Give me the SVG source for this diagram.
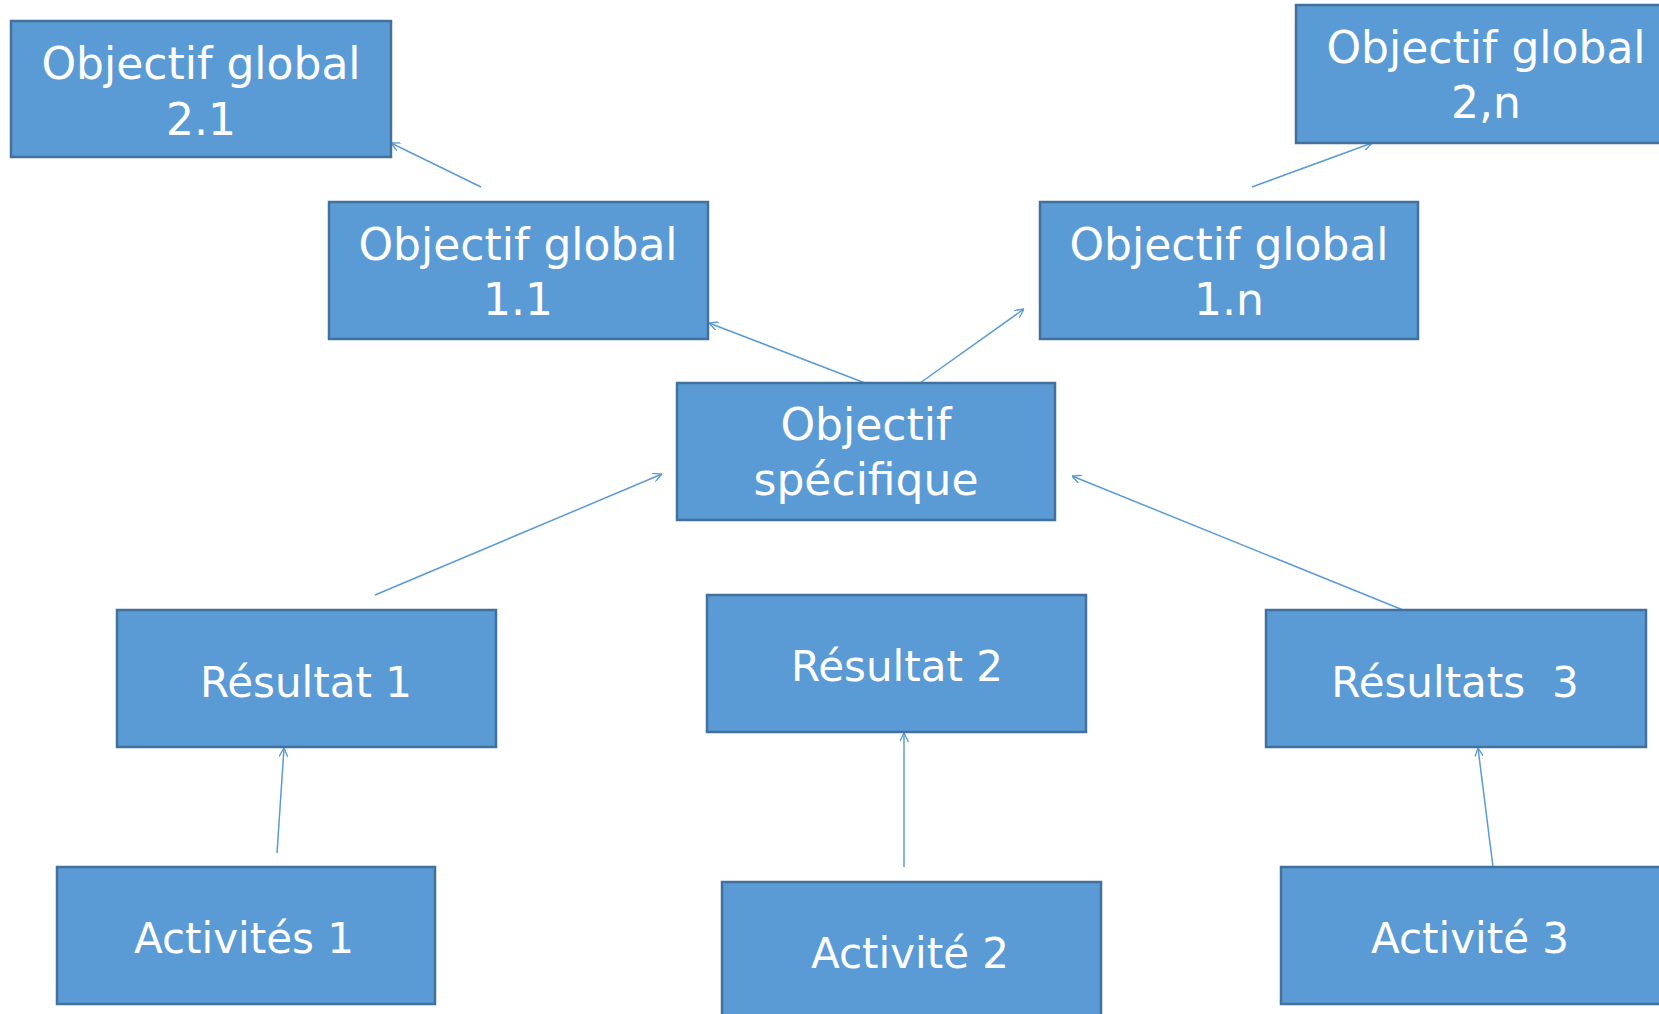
<svg xmlns="http://www.w3.org/2000/svg" width="1659" height="1014" viewBox="0 0 1659 1014">
<style>
.box{fill:#5B9BD5;stroke:#41719C;stroke-width:2.5}
.t{font-family:"DejaVu Sans",sans-serif;font-size:44px;fill:#ffffff;text-anchor:middle;white-space:pre}
.s{font-size:42px}
.c{stroke:#5B9BD5;stroke-width:1.5;fill:none}
</style>
<defs>
<marker id="arr" viewBox="0 0 10 10" refX="10" refY="5" markerWidth="9" markerHeight="9" markerUnits="userSpaceOnUse" orient="auto">
<path d="M0,0 L10,5 L0,10" fill="none" stroke="#5B9BD5" stroke-width="1.5"/>
</marker>
</defs>
<rect width="1659" height="1014" fill="#ffffff"/>
<g id="connectors">
<line class="c" x1="481" y1="187" x2="391" y2="143" marker-end="url(#arr)"/>
<line class="c" x1="1252" y1="187" x2="1372" y2="143" marker-end="url(#arr)"/>
<line class="c" x1="865" y1="383" x2="709" y2="323" marker-end="url(#arr)"/>
<line class="c" x1="920" y1="383" x2="1024" y2="309" marker-end="url(#arr)"/>
<line class="c" x1="375" y1="595" x2="662" y2="474" marker-end="url(#arr)"/>
<line class="c" x1="1403" y1="610" x2="1072" y2="476" marker-end="url(#arr)"/>
<line class="c" x1="277" y1="853" x2="284" y2="748" marker-end="url(#arr)"/>
<line class="c" x1="904" y1="867" x2="904" y2="733" marker-end="url(#arr)"/>
<line class="c" x1="1493" y1="867" x2="1478" y2="748" marker-end="url(#arr)"/>
</g>
<g id="og21"><rect class="box" x="11" y="21" width="380" height="136"/><text class="t" x="201" y="79">Objectif global</text><text class="t" x="201" y="135">2.1</text></g>
<g id="og2n"><rect class="box" x="1296" y="5" width="380" height="138"/><text class="t" x="1486" y="63">Objectif global</text><text class="t" x="1486" y="118">2,n</text></g>
<g id="og11"><rect class="box" x="329" y="202" width="379" height="137"/><text class="t" x="518" y="260">Objectif global</text><text class="t" x="518" y="315">1.1</text></g>
<g id="og1n"><rect class="box" x="1040" y="202" width="378" height="137"/><text class="t" x="1229" y="260">Objectif global</text><text class="t" x="1229" y="315">1.n</text></g>
<g id="os"><rect class="box" x="677" y="383" width="378" height="137"/><text class="t" x="866" y="440">Objectif</text><text class="t" x="866" y="495">spécifique</text></g>
<g id="r1"><rect class="box" x="117" y="610" width="379" height="137"/><text class="t s" x="306" y="697">Résultat 1</text></g>
<g id="r2"><rect class="box" x="707" y="595" width="379" height="137"/><text class="t s" x="897" y="681">Résultat 2</text></g>
<g id="r3"><rect class="box" x="1266" y="610" width="380" height="137"/><text class="t s" x="1455" y="697">Résultats  3</text></g>
<g id="a1"><rect class="box" x="57" y="867" width="378" height="137"/><text class="t s" x="244" y="953">Activités 1</text></g>
<g id="a2"><rect class="box" x="722" y="882" width="379" height="140"/><text class="t s" x="910" y="968">Activité 2</text></g>
<g id="a3"><rect class="box" x="1281" y="867" width="380" height="137"/><text class="t s" x="1470" y="953">Activité 3</text></g>
</svg>
